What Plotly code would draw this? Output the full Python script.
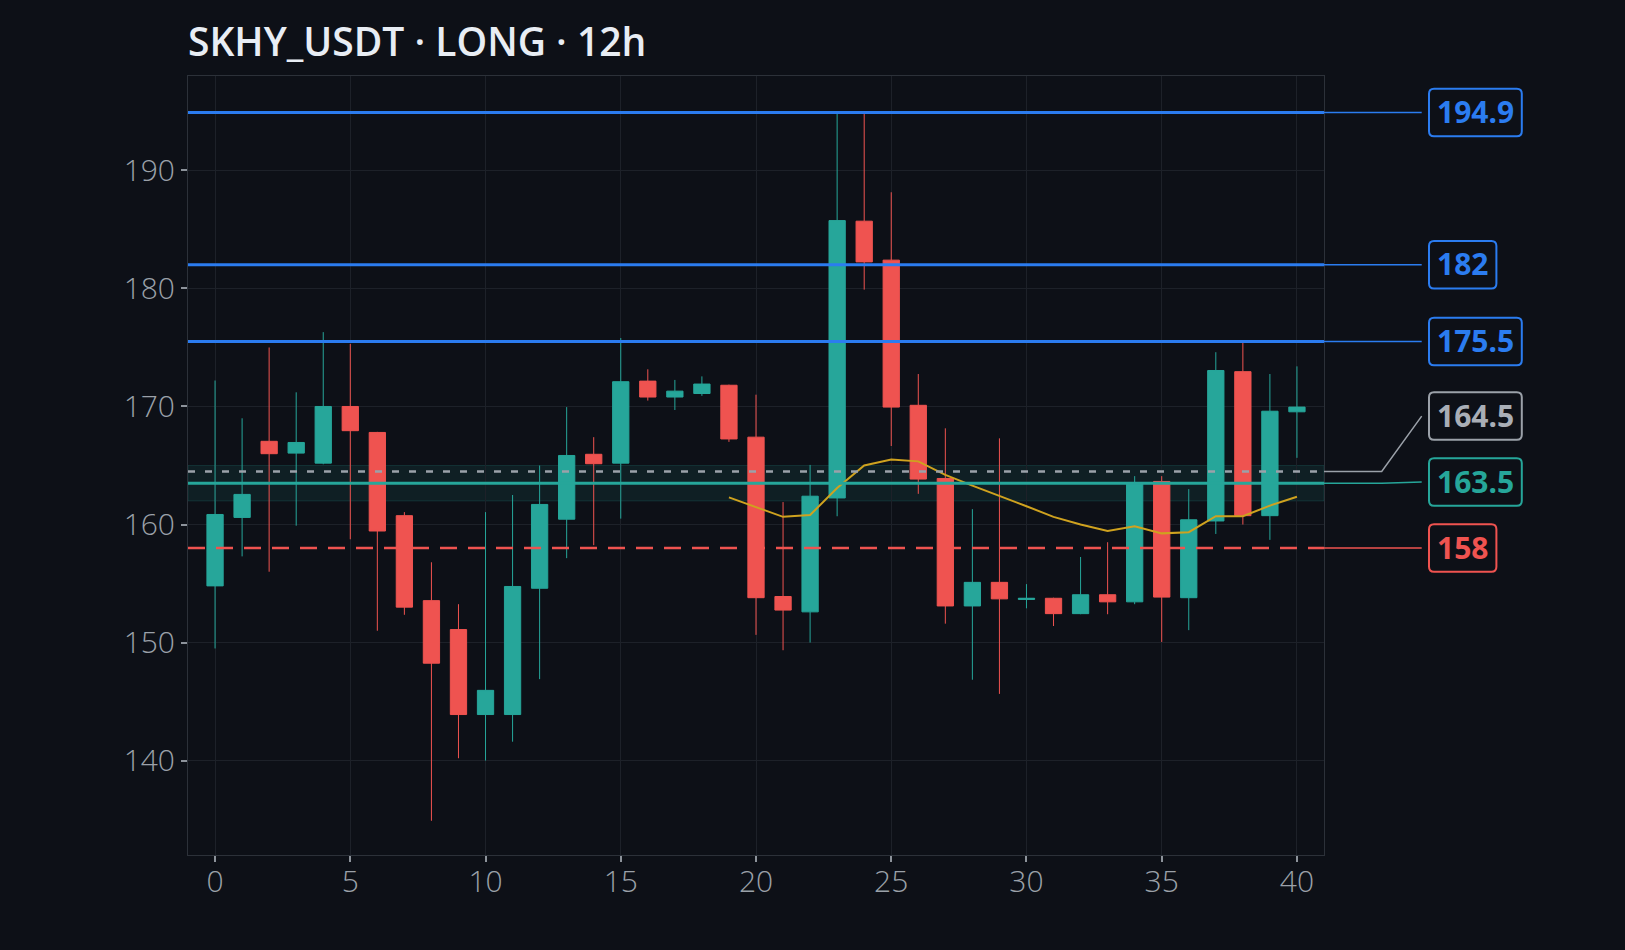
import plotly.graph_objects as go

# ---------------- data ----------------
candle_x = list(range(41))
open_ = [154.8, 160.6, 167.05, 166.05, 165.2, 170.0, 167.8, 160.75, 153.55, 151.1,
         143.9, 143.9, 154.6, 160.45, 165.95, 165.2, 172.15, 170.8, 171.1, 171.8,
         167.4, 153.9, 152.6, 162.25, 185.7, 182.4, 170.1, 163.9, 153.1, 155.1,
         153.65, 153.75, 152.45, 154.05, 153.45, 163.65, 153.8, 160.3, 172.95, 160.75,
         169.55]
high = [172.2, 169.0, 175.0, 171.2, 176.3, 175.3, 167.85, 161.05, 156.8, 153.25,
        161.05, 162.5, 165.0, 169.95, 167.4, 175.8, 173.15, 172.25, 172.55, 171.85,
        171.0, 161.9, 165.05, 194.9, 194.8, 188.15, 172.75, 168.15, 161.3, 167.3,
        154.95, 153.8, 157.25, 158.5, 164.1, 164.1, 163.0, 174.6, 175.6, 172.75,
        173.4]
low = [149.5, 157.3, 156.0, 159.9, 165.1, 158.75, 151.0, 152.35, 134.9, 140.2,
       140.0, 141.6, 146.9, 157.15, 158.25, 160.5, 170.5, 169.7, 170.9, 167.0,
       150.65, 149.35, 150.0, 160.7, 179.9, 166.65, 162.6, 151.6, 146.85, 145.65,
       152.9, 151.4, 152.4, 152.4, 153.25, 150.05, 151.05, 159.2, 160.0, 158.7,
       165.65]
close = [160.85, 162.55, 166.0, 166.95, 170.0, 167.95, 159.45, 153.0, 148.25, 143.9,
         145.95, 154.75, 161.7, 165.85, 165.15, 172.1, 170.8, 171.3, 171.9, 167.25,
         153.8, 152.75, 162.4, 185.75, 182.25, 169.95, 163.85, 153.1, 155.1, 153.7,
         153.75, 152.45, 154.05, 153.45, 163.55, 153.85, 160.4, 173.05, 160.75, 169.6,
         169.95]

ma_x = list(range(19, 41))
ma_vals = [162.3, 161.45, 160.65, 160.8, 163.1, 165.0, 165.5, 165.35, 164.2, 163.3,
           162.45, 161.55, 160.65, 160.0, 159.45, 159.85, 159.25, 159.35, 160.7, 160.7,
           161.6, 162.35]

level_values = [194.9, 182.0, 175.5, 164.5, 163.5, 158.0]
level_labels = ["194.9", "182", "175.5", "164.5", "163.5", "158"]
level_kinds = ["target", "target", "target", "mark", "entry", "stop"]
entry_band = [162.0, 165.0]

title_text = "SKHY_USDT · LONG · 12h"
x_ticks = [0, 5, 10, 15, 20, 25, 30, 35, 40]
y_ticks = [140, 150, 160, 170, 180, 190]

# ---------------- style ----------------
BG = "#0d1017"
GRID = "#1d2129"
UP = "#26a69a"
DOWN = "#ef5350"
BLUE = "#2b7cf0"
GREY = "#9ba1a9"
MA_COLOR = "#cfa21f"

W, H = 1625, 950
ML, MR, MT, MB = 188, 301, 76, 95
PW = W - ML - MR
PH = H - MT - MB
YR = [132, 198]
XR = [-1, 41]
PPU = PH / (YR[1] - YR[0])  # pixels per price unit

STYLE = {
    "target": dict(color=BLUE, dash="solid", width=3, text=BLUE),
    "mark": dict(color=GREY, dash="7px,10px", width=2.5, text="#a9aeb6"),
    "entry": dict(color=UP, dash="solid", width=3, text=UP),
    "stop": dict(color=DOWN, dash="17px,11px", width=2.5, text=DOWN),
}


def px_to_paper(px):
    return (px - ML) / PW


KNEE_X = px_to_paper(1381.7)
END_X = px_to_paper(1421.7)
BOX_LEFT_PX = 1429.0
BOX_H = 47.5
RADIUS = 5.0
LABEL_GAP = 66.0 / PPU

fig = go.Figure()

fig.add_trace(go.Candlestick(
    x=candle_x, open=open_, high=high, low=low, close=close,
    increasing=dict(line=dict(color=UP, width=1), fillcolor=UP),
    decreasing=dict(line=dict(color=DOWN, width=1), fillcolor=DOWN),
    whiskerwidth=0, showlegend=False, hoverinfo="skip",
))

fig.add_trace(go.Scatter(
    x=ma_x, y=ma_vals, mode="lines",
    line=dict(color=MA_COLOR, width=2), showlegend=False, hoverinfo="skip",
))

shapes = []
# entry band
shapes.append(dict(type="rect", xref="paper", yref="y", x0=0, x1=1,
                   y0=entry_band[0], y1=entry_band[1],
                   fillcolor="rgba(38,166,154,0.10)",
                   line=dict(color="rgba(38,166,154,0.18)", width=1),
                   layer="below"))

# label positions with collision avoidance
order = sorted(range(len(level_values)), key=lambda i: level_values[i])
label_y = {}
prev = None
for i in order:
    v = level_values[i]
    if prev is not None and v < prev + LABEL_GAP:
        v = prev + LABEL_GAP
    label_y[i] = v
    prev = v


def rounded_box(x0, x1, yc):
    rx = RADIUS / PW
    ry = RADIUS / PPU
    yb = yc - BOX_H / 2 / PPU
    yt = yc + BOX_H / 2 / PPU
    return (f"M {x0+rx},{yb} L {x1-rx},{yb} Q {x1},{yb} {x1},{yb+ry} "
            f"L {x1},{yt-ry} Q {x1},{yt} {x1-rx},{yt} L {x0+rx},{yt} "
            f"Q {x0},{yt} {x0},{yt-ry} L {x0},{yb+ry} Q {x0},{yb} {x0+rx},{yb} Z")


annotations = []
for i, (v, lab, kind) in enumerate(zip(level_values, level_labels, level_kinds)):
    st = STYLE[kind]
    shapes.append(dict(type="line", xref="paper", yref="y", x0=0, x1=1, y0=v, y1=v,
                       line=dict(color=st["color"], width=st["width"], dash=st["dash"]),
                       layer="above"))
    ly = label_y[i]
    shapes.append(dict(type="path", xref="paper", yref="y",
                       path=f"M 1,{v} L {KNEE_X},{v} L {END_X},{ly}",
                       line=dict(color=st["color"], width=1.5), layer="above"))
    n_dig = sum(c.isdigit() for c in lab)
    n_dot = lab.count(".")
    wpx = 17 + 16.8 * n_dig + 8.6 * n_dot
    x0 = px_to_paper(BOX_LEFT_PX)
    x1 = px_to_paper(BOX_LEFT_PX + wpx)
    shapes.append(dict(type="path", xref="paper", yref="y", path=rounded_box(x0, x1, ly),
                       fillcolor=BG, line=dict(color=st["color"], width=2), layer="above"))
    annotations.append(dict(xref="paper", yref="y", x=(x0 + x1) / 2, y=ly + 0.08,
                            xanchor="center", yanchor="middle", showarrow=False,
                            text=lab,
                            font=dict(family="Noto Sans", size=30, color=st["text"], weight=700)))

axis_common = dict(
    showgrid=True, gridcolor=GRID, gridwidth=1, zeroline=False,
    showline=True, linecolor="#2c3139", linewidth=1, mirror=True,
    ticks="outside", ticklen=6, tickwidth=1.5, tickcolor="#8d939b",
    tickfont=dict(family="Open Sans", size=30, color="#9ba1a9", weight=300),
)

fig.update_layout(
    width=W, height=H,
    paper_bgcolor=BG, plot_bgcolor=BG,
    margin=dict(l=ML, r=MR, t=MT, b=MB),
    boxgap=0.3, boxgroupgap=0.14,
    title=dict(text=title_text, xref="paper", x=0, xanchor="left",
               yref="container", y=1 - 42 / H, yanchor="middle",
               font=dict(family="Open Sans", size=39, color="#e8edf4", weight=600)),
    xaxis=dict(range=XR, tickvals=x_ticks, rangeslider=dict(visible=False),
               ticklabelstandoff=-6, **axis_common),
    yaxis=dict(range=YR, tickvals=y_ticks, **axis_common),
    shapes=shapes, annotations=annotations,
    showlegend=False,
)

fig.write_html("out.html")
